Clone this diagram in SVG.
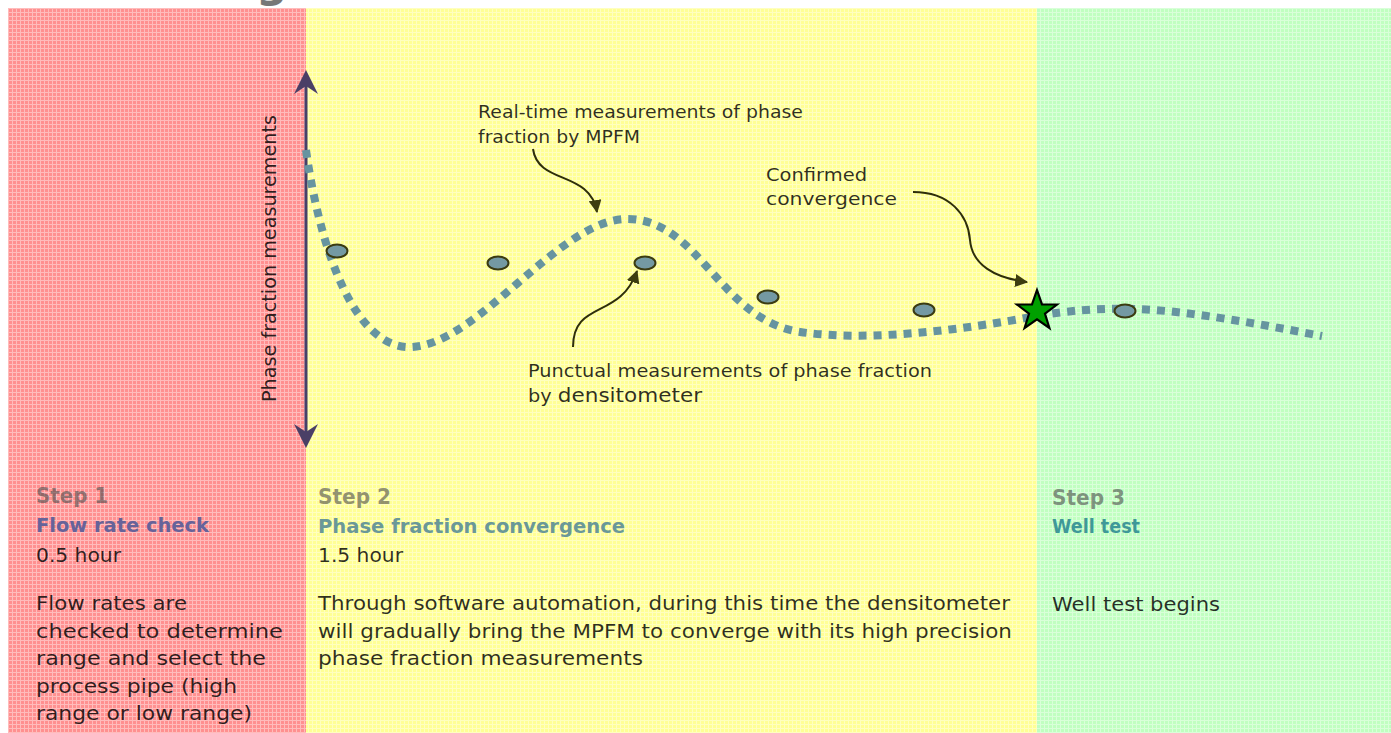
<svg xmlns="http://www.w3.org/2000/svg" width="1391" height="733" viewBox="0 0 1391 733">
<style>
text{font-family:"DejaVu Sans","Liberation Sans",sans-serif}
.step{font-size:21px;font-weight:bold;fill:#4a4a4a;fill-opacity:.6}
.sub{font-size:19px;font-weight:bold}
.body{font-size:19.5px;fill:#000;fill-opacity:.82}
.note{font-size:17.5px;fill:#000;fill-opacity:.82}
.conn{fill:none;stroke:#2e2e0a;stroke-width:2}
.meas{fill:#7499a3;stroke:#3b3b12;stroke-width:2}
</style>
<defs>
<pattern id="grid" width="4" height="4" patternUnits="userSpaceOnUse">
<rect x="0" y="0" width="4" height="1" fill="#fff" fill-opacity=".4"/>
<rect x="0" y="1" width="1" height="3" fill="#fff" fill-opacity=".4"/>
</pattern>
<marker id="tri" viewBox="0 0 12 12" refX="11" refY="6" markerWidth="13" markerHeight="13" markerUnits="userSpaceOnUse" orient="auto">
<path d="M0,0 L12,6 L0,12 z" fill="#3d3d10"/>
</marker>
</defs>
<rect width="1391" height="733" fill="#fff"/>
<text x="256" y="-3" style="font-size:44px;font-weight:bold;fill:#777">g</text>

<g id="panel-step1">
<rect x="8" y="8" width="298" height="725" fill="#ff9090"/>
</g>
<g id="panel-step2">
<rect x="306" y="8" width="731" height="725" fill="#ffff95"/>
</g>
<g id="panel-step3">
<rect x="1037" y="8" width="354" height="725" fill="#c0ffc0"/>
</g>
<rect x="8" y="8" width="1383" height="725" fill="url(#grid)"/>

<g id="axis">
<line x1="306" y1="80" x2="306" y2="438" stroke="#47406a" stroke-width="3"/>
<path d="M306,70 L318,94 L306,86 L294,94 z" fill="#4a3f66"/>
<path d="M306,448 L318,424 L306,432 L294,424 z" fill="#4a3f66"/>
<text class="body" transform="translate(276,402) rotate(-90)" textLength="287" lengthAdjust="spacingAndGlyphs">Phase fraction measurements</text>
</g>

<g id="mpfm-curve">
<path d="M306,150 C320,250 355,350 412,347 C480,343 560,218 628,219 C700,220 720,320 800,332 C870,342 960,330 1037,316 C1100,305 1150,308 1200,315 C1250,322 1290,330 1322,336" fill="none" stroke="#6694a0" stroke-width="8" stroke-dasharray="8 7"/>
</g>

<g id="densitometer-points">
<ellipse class="meas" cx="337" cy="251" rx="10.5" ry="6.5"/>
<ellipse class="meas" cx="498" cy="263" rx="10.5" ry="6.5"/>
<ellipse class="meas" cx="645" cy="263" rx="10.5" ry="6.5"/>
<ellipse class="meas" cx="768" cy="297" rx="10.5" ry="6.5"/>
<ellipse class="meas" cx="924" cy="310" rx="10.5" ry="6.5"/>
<ellipse class="meas" cx="1125" cy="311" rx="10.5" ry="6.5"/>
</g>

<g id="convergence-star">
<polygon points="1037,290 1042,304.3 1057,304.5 1045,313.7 1049.4,328 1037,319.4 1024.6,328 1029,313.7 1017,304.5 1032,304.3" fill="#00a000" stroke="#000" stroke-width="2.2" stroke-linejoin="miter"/>
</g>

<g id="connectors">
<path class="conn" d="M533,149 C538,185 590,170 597,212" marker-end="url(#tri)"/>
<path class="conn" d="M573,347 C573,300 620,320 637,271" marker-end="url(#tri)"/>
<path class="conn" d="M913,192 C950,192 968,215 970,240 C972,265 995,278 1027,282" marker-end="url(#tri)"/>
</g>

<g id="label-realtime">
<text class="note" x="478" y="118" textLength="325" lengthAdjust="spacingAndGlyphs">Real-time measurements of phase</text>
<text class="note" x="478" y="143" textLength="162" lengthAdjust="spacingAndGlyphs">fraction by MPFM</text>
</g>
<g id="label-confirmed">
<text class="note" x="766" y="181" textLength="101" lengthAdjust="spacingAndGlyphs">Confirmed</text>
<text class="note" x="766" y="205" textLength="131" lengthAdjust="spacingAndGlyphs">convergence</text>
</g>
<g id="label-punctual">
<text class="note" x="528" y="377" textLength="404" lengthAdjust="spacingAndGlyphs">Punctual measurements of phase fraction</text>
<text class="note" x="528" y="402" textLength="174" lengthAdjust="spacingAndGlyphs">by <tspan style="font-size:19.5px">densitometer</tspan></text>
</g>

<g id="text-step1">
<text class="step" x="36" y="503" textLength="72" lengthAdjust="spacingAndGlyphs">Step 1</text>
<text class="sub" x="36" y="532" fill="#66639a" textLength="173" lengthAdjust="spacingAndGlyphs">Flow rate check</text>
<text class="body" x="36" y="562" textLength="85" lengthAdjust="spacingAndGlyphs">0.5 hour</text>
<text class="body" x="36" y="610" textLength="151" lengthAdjust="spacingAndGlyphs">Flow rates are</text>
<text class="body" x="36" y="638" textLength="247" lengthAdjust="spacingAndGlyphs">checked to determine</text>
<text class="body" x="36" y="665" textLength="230" lengthAdjust="spacingAndGlyphs">range and select the</text>
<text class="body" x="36" y="693" textLength="201" lengthAdjust="spacingAndGlyphs">process pipe (high</text>
<text class="body" x="36" y="720" textLength="216" lengthAdjust="spacingAndGlyphs">range or low range)</text>
</g>

<g id="text-step2">
<text class="step" x="318" y="504" textLength="73" lengthAdjust="spacingAndGlyphs">Step 2</text>
<text class="sub" x="318" y="533" fill="#6a9898" textLength="307" lengthAdjust="spacingAndGlyphs">Phase fraction convergence</text>
<text class="body" x="318" y="562" textLength="85" lengthAdjust="spacingAndGlyphs">1.5 hour</text>
<text class="body" x="318" y="610" textLength="692" lengthAdjust="spacingAndGlyphs">Through software automation, during this time the densitometer</text>
<text class="body" x="318" y="638" textLength="694" lengthAdjust="spacingAndGlyphs">will gradually bring the MPFM to converge with its high precision</text>
<text class="body" x="318" y="665" textLength="325" lengthAdjust="spacingAndGlyphs">phase fraction measurements</text>
</g>

<g id="text-step3">
<text class="step" x="1052" y="505" textLength="73" lengthAdjust="spacingAndGlyphs">Step 3</text>
<text class="sub" x="1052" y="533" fill="#3f9898" textLength="88" lengthAdjust="spacingAndGlyphs">Well test</text>
<text class="body" x="1052" y="611" textLength="168" lengthAdjust="spacingAndGlyphs">Well test begins</text>
</g>
</svg>
